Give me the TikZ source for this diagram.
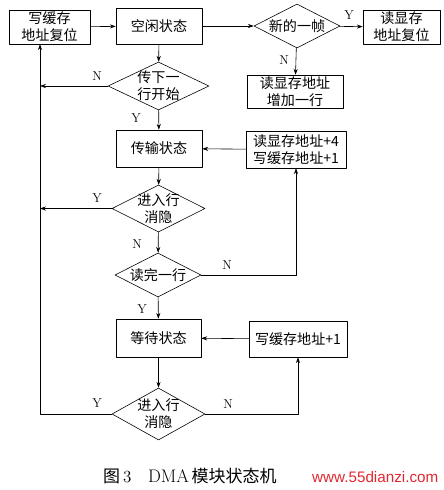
\documentclass[tikz,border=0pt]{standalone}
\usepackage{fontspec}
\newfontfamily\cjk{Noto Sans CJK SC}
\newfontfamily\wmfont{Liberation Sans}
\usetikzlibrary{shapes.geometric,arrows.meta,calc,positioning}
\definecolor{wmred}{RGB}{225,40,50}
\begin{document}
\begin{tikzpicture}[x=0.03cm,y=-0.03cm,line join=round,line cap=round,line width=0.5pt,>={Stealth[length=5pt,width=3.5pt]},
	box/.style={draw,align=center,inner sep=0pt,font=\cjk\fontsize{12pt}{14.5pt}\selectfont},
	dia/.style={draw,diamond,align=center,inner sep=-6pt,font=\cjk\fontsize{12pt}{14.5pt}\selectfont}]
		\useasboundingbox (0,0) rectangle (444,490);
		\coordinate (bus) at (40,0);
		\node[box,minimum width=2.43cm,minimum height=1.02cm] (wreset) at (49.5,27) {写缓存\\地址复位};
		\node[box,minimum width=2.58cm,minimum height=1.08cm] (idle) at (159,26) {空闲状态};
		\node[dia,minimum width=2.58cm,minimum height=1.32cm] (newf) at (297,26) {新的一帧};
		\node[box,minimum width=2.31cm,minimum height=1.02cm] (rreset) at (401.5,27) {读显存\\地址复位};
		\node[box,minimum width=2.88cm,minimum height=0.99cm] (radd) at (295,91.5) {读显存地址\\增加一行};
		\node[dia,minimum width=3.03cm,minimum height=1.44cm] (nextrow) at (158.5,86) {传下一\\行开始};
		\node[box,minimum width=2.58cm,minimum height=1.11cm] (trans) at (159,148.5) {传输状态};
		\node[box,minimum width=3.00cm,minimum height=1.11cm] (plus4) at (296,149.5) {读显存地址+4\\写缓存地址+1};
		\node[dia,minimum width=2.79cm,minimum height=1.41cm] (blank1) at (158.5,208.5) {进入行\\消隐};
		\node[dia,minimum width=2.58cm,minimum height=1.32cm] (rdone) at (158,275) {读完一行};
		\node[box,minimum width=2.55cm,minimum height=1.14cm] (wait) at (158.5,338) {等待状态};
		\node[box,minimum width=2.94cm,minimum height=1.08cm] (plus1) at (298,339) {写缓存地址+1};
		\node[dia,minimum width=2.79cm,minimum height=1.56cm] (blank2) at (158.5,414) {进入行\\消隐};
		\draw[->] (wreset)--(idle);
		\draw[->] (idle)--(newf);
		\draw[->] (newf)--(rreset);
		\draw[->] (newf)--(radd);
		\draw[->] (idle)--(nextrow);
		\draw[->] (nextrow)--(trans);
		\draw[->] (plus4)--(trans);
		\draw[->] (trans)--(blank1);
		\draw[->] (blank1)--(rdone);
		\draw[->] (rdone)--(wait);
		\draw[->] (plus1)--(wait);
		\draw[->] (wait)--(blank2);
		\draw[->] (rdone.east) -| (plus4.south);
		\draw[->] (blank2.east) -| (plus1.south);
		\draw[->] (blank2.west) -| (bus |- wreset.south);
		\draw[->] (nextrow.west)--(nextrow.west -| bus);
		\draw[->] (blank1.west)--(blank1.west -| bus);
		\foreach \n/\t/\p in {ya/Y/{349,15},na/N/{284,60},nb/N/{97,76},yb/Y/{136,118},yc/Y/{97,198},nc/N/{137,244},nd/N/{227,265},yd/Y/{142,309},ye/Y/{97,403},ne/N/{228,404}}{\node[font=\fontsize{11pt}{13pt}\selectfont] (\n) at (\p) {\t};}
		\node[anchor=west,font=\cjk\fontsize{14.5pt}{17pt}\selectfont] (cap) at (99,476) {图\,{\rmfamily 3}\hspace{5mm}{\rmfamily\fontsize{15.5pt}{17pt}\selectfont DMA}\,模块状态机};
		\node[anchor=west,font=\wmfont\fontsize{13pt}{15pt}\selectfont,text=wmred] (mark) at (308,477) {www.55dianzi.com};
		\end{tikzpicture}
\end{document}
